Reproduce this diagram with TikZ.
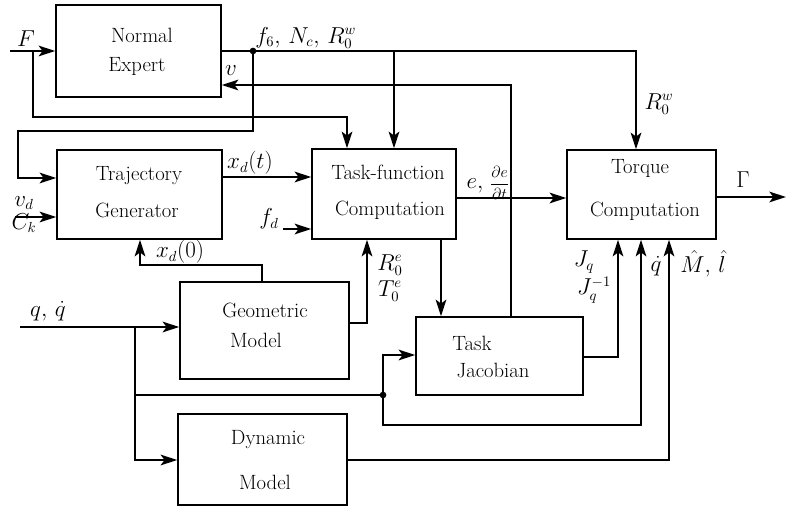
\documentclass[tikz,border=0pt]{standalone}
\usepackage{fontspec}
\usetikzlibrary{arrows.meta}
\newcommand\blkfont{\fontsize{15.5}{18}\selectfont\addfontfeatures{LetterSpace=5}}
\newcommand\lblfont{\fontsize{16}{18}\selectfont}
\begin{document}
\begin{tikzpicture}[x=0.75pt,y=-0.75pt,
  blk/.style={draw,line width=1.1pt,inner sep=0pt,rectangle},
  btxt/.style={inner sep=0pt,font=\blkfont},
  lbl/.style={inner sep=0pt,font=\lblfont},
  arr/.style={-{Stealth[length=12.5pt,width=8pt,inset=3pt]}},
  wire/.style={line width=1.25pt},
  jdot/.style={circle,fill,inner sep=0pt,minimum size=5pt}]
\useasboundingbox (0,0) rectangle (787,509);

% boxes
\node[blk,minimum width=123.75pt,minimum height=69pt] (NE) at (138.5,51) {};
\node[blk,minimum width=123.75pt,minimum height=66.75pt] (TG) at (139.5,194.5) {};
\node[blk,minimum width=108pt,minimum height=67.5pt] (TF) at (384,194) {};
\node[blk,minimum width=111.75pt,minimum height=66.75pt] (TC) at (641.5,194.5) {};
\node[blk,minimum width=126.75pt,minimum height=72.75pt] (GM) at (264.5,330.5) {};
\node[blk,minimum width=125.25pt,minimum height=58.5pt] (TJ) at (499.5,356) {};
\node[blk,minimum width=126.75pt,minimum height=68.25pt] (DM) at (262.5,459.5) {};

% box texts
\node[btxt] (NEa) at (142,35) {Normal};
\node[btxt] (NEb) at (137,66) {Expert};
\node[btxt] (TGa) at (139,176) {Trajectory};
\node[btxt] (TGb) at (137,210) {Generator};
\node[btxt] (TFa) at (388,172) {Task-function};
\node[btxt] (TFb) at (390,210) {Computation};
\node[btxt] (TCa) at (640,168) {Torque};
\node[btxt] (TCb) at (645,211) {Computation};
\node[btxt] (GMa) at (265,310) {Geometric};
\node[btxt] (GMb) at (256,340) {Model};
\node[btxt] (TJa) at (472,343) {Task};
\node[btxt] (TJb) at (493,370) {Jacobian};
\node[btxt] (DMa) at (268,440) {Dynamic};
\node[btxt] (DMb) at (265,482) {Model};

% coordinates
\coordinate (Fin) at (10,51);
\coordinate (Fb) at (33,51);
\coordinate (Fc) at (347,117);
\coordinate (R0w) at (636,51);
\coordinate (b394) at (394,51);
\coordinate (c2) at (18,131);
\coordinate (tgA) at (18,178);
\coordinate (vt) at (511,85);
\coordinate (vdin) at (15,217);
\coordinate (yxd) at (0,177);
\coordinate (fdin) at (283,229);
\coordinate (x0a) at (262,265);
\coordinate (x0b) at (140,265);
\coordinate (gmo) at (367,323);
\coordinate (tftj) at (441,0);
\coordinate (ey) at (0,198);
\coordinate (Gout) at (786,197);
\coordinate (tjo) at (618,357);
\coordinate (qin) at (20,327);
\coordinate (qb) at (135,327);
\coordinate (qc) at (135,460);
\coordinate (qd) at (135,395);
\coordinate (tjin) at (383,355);
\coordinate (qe) at (383,425);
\coordinate (qf) at (641,425);
\coordinate (dmo) at (669,460);

\node[jdot] (d1) at (253,51) {};
\node[jdot] (d2) at (383,395) {};

% connectors
\draw[wire,arr] (Fin) -- (NE.west);
\draw[wire,arr] (Fb) |- (Fc) -- (TF.north -| Fc);
\draw[wire,arr] (NE.east) -- (R0w) -- (TC.north -| R0w);
\draw[wire,arr] (b394) -- (TF.north -| b394);
\draw[wire,arr] (d1.center) |- (c2) -- (tgA) -- (TG.west |- tgA);
\draw[wire,arr] (TJ.north -| vt) -- (vt) -- (NE.east |- vt);
\draw[wire,arr] (vdin) -- (TG.west |- vdin);
\draw[wire,arr] (TG.east |- yxd) -- (TF.west |- yxd);
\draw[wire,arr] (fdin) -- (TF.west |- fdin);
\draw[wire,arr] (GM.north -| x0a) -- (x0a) -- (x0b) -- (TG.south -| x0b);
\draw[wire,arr] (GM.east |- gmo) -- (gmo) -- (TF.south -| gmo);
\draw[wire,arr] (TF.south -| tftj) -- (TJ.north -| tftj);
\draw[wire,arr] (TF.east |- ey) -- (TC.west |- ey);
\draw[wire,arr] (TC.east |- Gout) -- (Gout);
\draw[wire,arr] (TJ.east |- tjo) -- (tjo) -- (TC.south -| tjo);
\draw[wire,arr] (qin) -- (GM.west |- qin);
\draw[wire,arr] (qb) -- (qc) -- (DM.west |- qc);
\draw[wire] (qd) -- (d2.center);
\draw[wire,arr] (d2.center) -- (tjin) -- (TJ.west |- tjin);
\draw[wire,arr] (d2.center) -- (qe) -- (qf) -- (TC.south -| qf);
\draw[wire,arr] (DM.east |- dmo) -- (dmo) -- (TC.south -| dmo);

% labels
\node[lbl] (lF) at (26,39) {$F$};
\node[lbl,anchor=south west] (lf6) at (255,49) {$f_6,\,N_c,\,R_0^w$};
\node[lbl] (lv) at (231,71) {$v$};
\node[lbl] (lRw) at (659,104) {$R_0^w$};
\node[lbl] (lvd) at (24,203) {$v_d$};
\node[lbl] (lCk) at (24,223) {$C_k$};
\node[lbl] (lxdt) at (250,163) {$x_d(t)$};
\node[lbl] (lfd) at (269,219) {$f_d$};
\node[lbl] (lx0) at (180,252) {$x_d(0)$};
\node[lbl] (le) at (488,183) {$e,$\ {\fontsize{11.5}{13}\selectfont$\displaystyle{\partial e\over\partial t}$}};
\node[lbl] (lG) at (743,180) {$\Gamma$};
\node[lbl] (lRe) at (390,265) {$R_0^e$};
\node[lbl] (lTe) at (390,291) {$T_0^e$};
\node[lbl] (lJq) at (584,262) {$J_q$};
\node[lbl] (lJqi) at (594,290) {$J_q^{-1}$};
\node[lbl] (lqd) at (656,266) {$\dot q$};
\node[lbl] (lMl) at (703,264) {$\hat M,\,\hat l$};
\node[lbl] (lq) at (48,311) {$q,\,\dot q$};
\end{tikzpicture}
\end{document}
